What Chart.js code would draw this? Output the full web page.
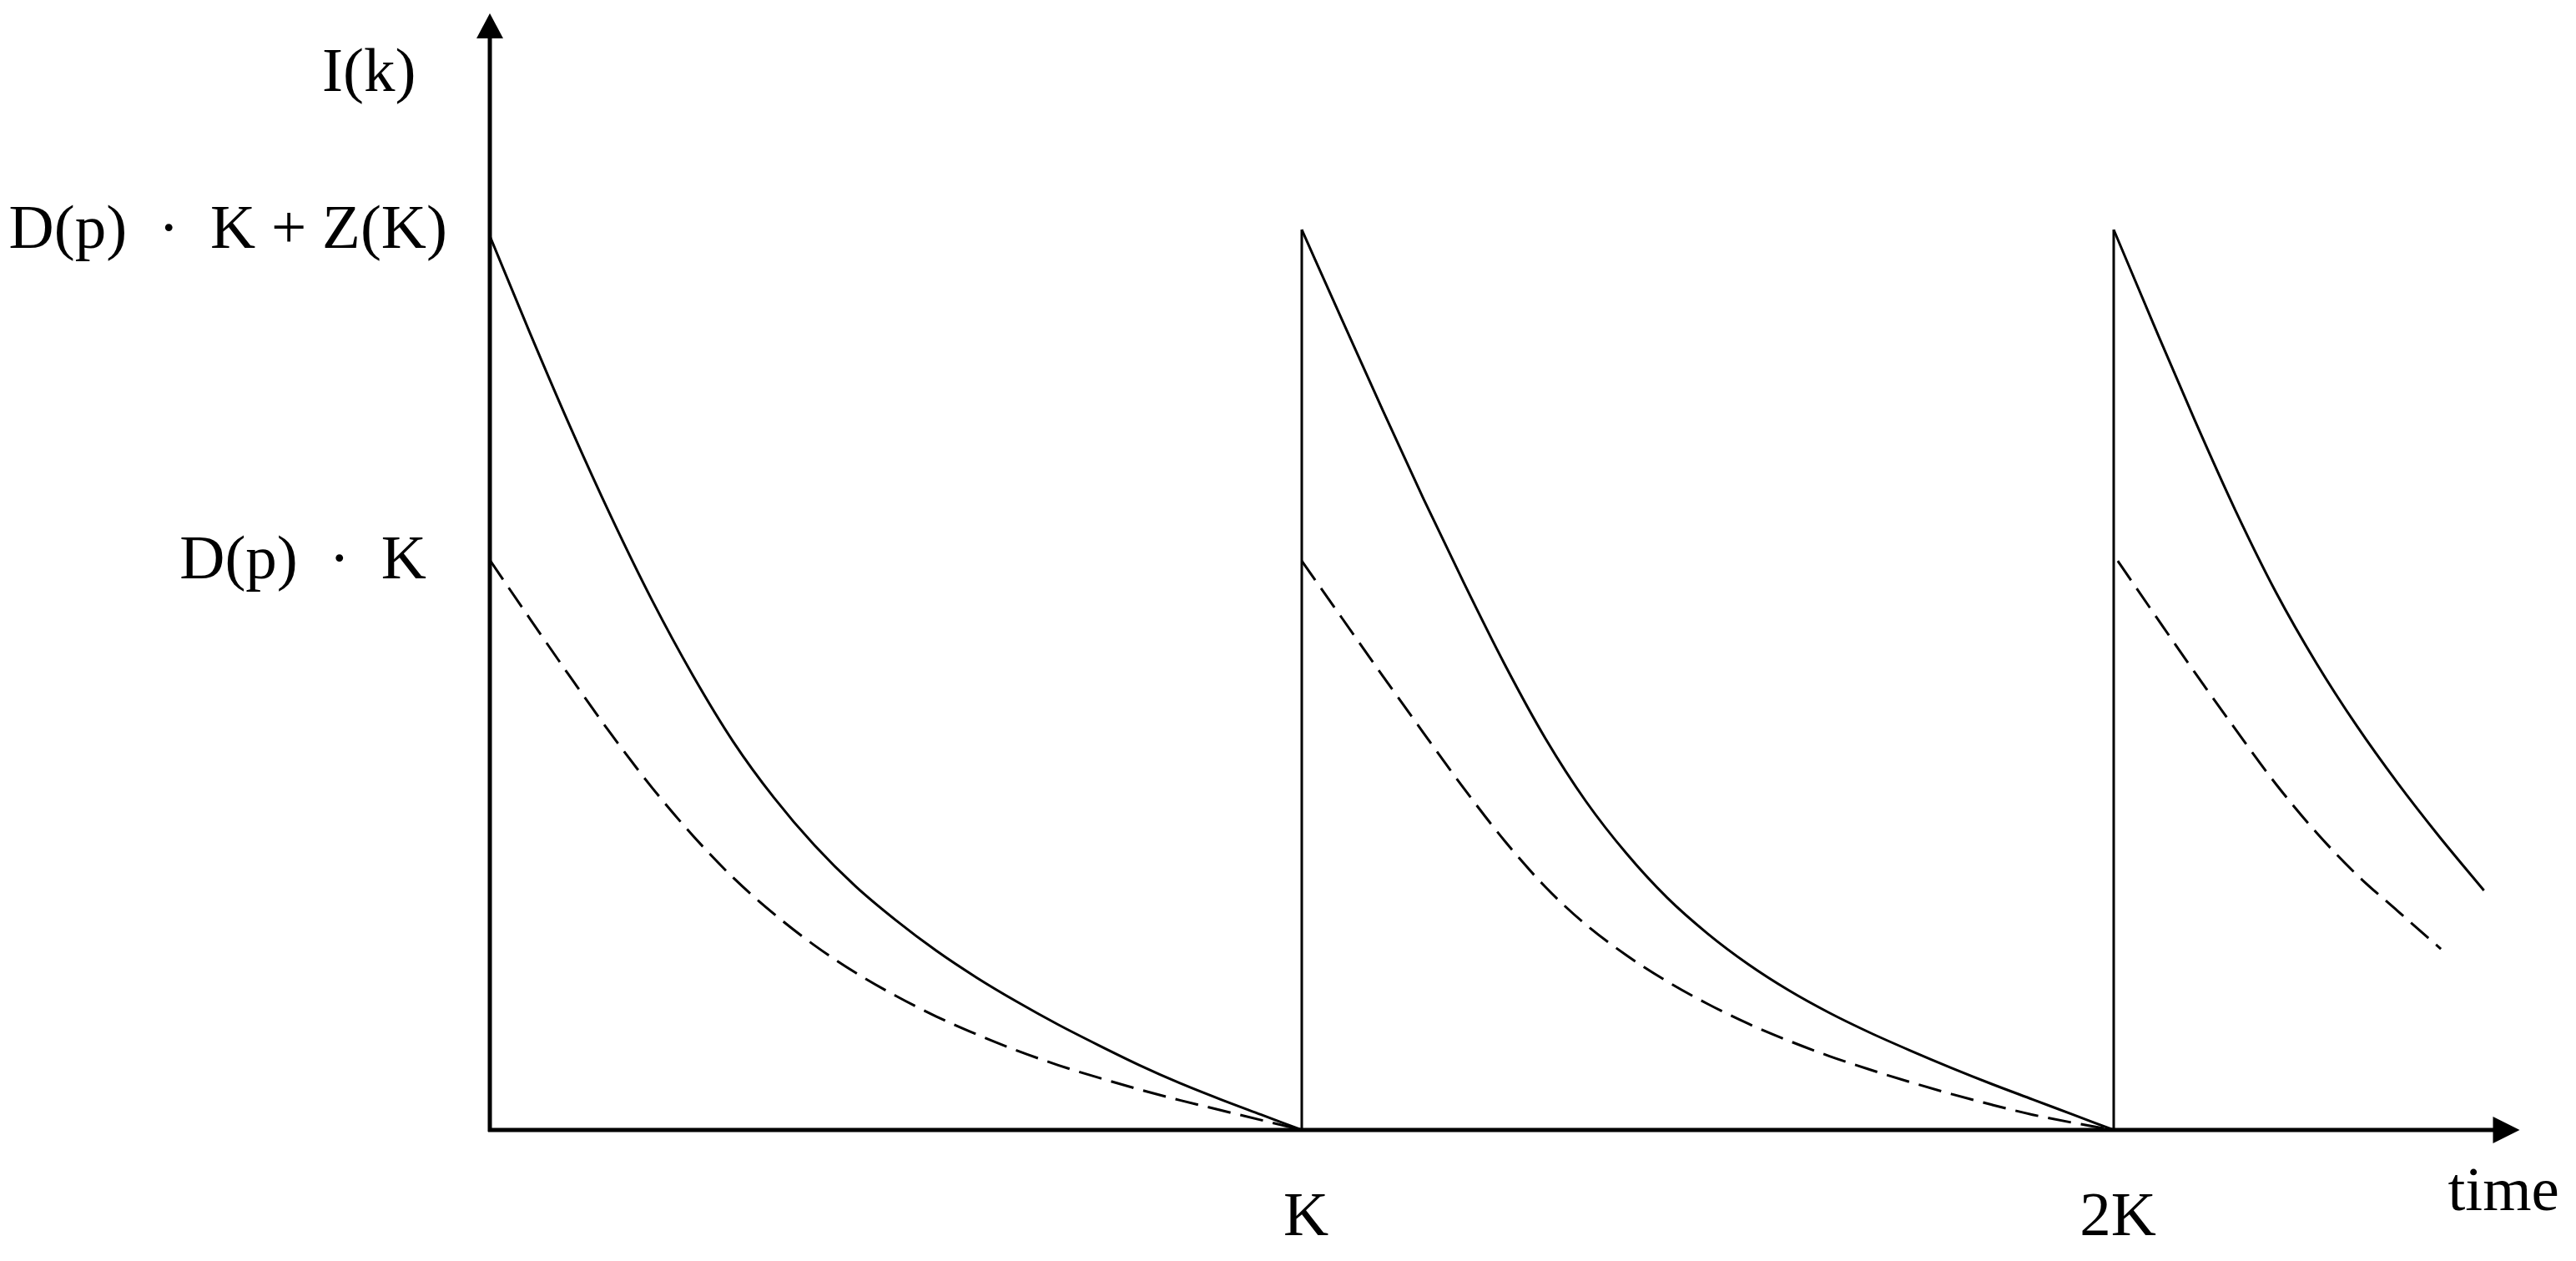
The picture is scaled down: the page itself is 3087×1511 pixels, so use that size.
<!DOCTYPE html>
<html>
<head>
<meta charset="utf-8">
<script src="https://cdn.jsdelivr.net/npm/chart.js@4.4.1/dist/chart.umd.min.js"></script>
<style>
  html, body { margin: 0; padding: 0; background: #fff; }
  canvas { display: block; }
</style>
</head>
<body>
<canvas id="inventory" width="3087" height="1511"></canvas>
<script>
// time in units of K, inventory in units of D(p)·K + Z(K)
var cycle1T     = [0, 0.05, 0.1, 0.15, 0.2, 0.25, 0.3, 0.35, 0.4, 0.45, 0.5, 0.55, 0.6, 0.65, 0.7, 0.75, 0.8, 0.85, 0.9, 0.95, 1];
var cycle1Total = [0.993, 0.884, 0.779, 0.680, 0.588, 0.505, 0.431, 0.369, 0.316, 0.271, 0.233, 0.199, 0.169, 0.142, 0.117, 0.094, 0.072, 0.052, 0.034, 0.017, 0];
var cycle1Base  = [0.633, 0.567, 0.502, 0.439, 0.380, 0.327, 0.280, 0.240, 0.205, 0.175, 0.149, 0.126, 0.106, 0.088, 0.072, 0.058, 0.045, 0.033, 0.022, 0.011, 0];

var cycle2T     = [1, 1.05, 1.1, 1.15, 1.2, 1.25, 1.3, 1.35, 1.4, 1.45, 1.5, 1.55, 1.6, 1.65, 1.7, 1.75, 1.8, 1.85, 1.9, 1.95, 2];
var cycle2Total = [1.0, 0.899, 0.799, 0.701, 0.607, 0.517, 0.435, 0.365, 0.307, 0.258, 0.218, 0.184, 0.155, 0.130, 0.108, 0.088, 0.069, 0.051, 0.034, 0.017, 0];
var cycle2Base  = [0.632, 0.568, 0.504, 0.441, 0.379, 0.321, 0.270, 0.228, 0.194, 0.165, 0.140, 0.118, 0.099, 0.082, 0.067, 0.053, 0.040, 0.028, 0.017, 0.008, 0];

var cycle3TotalT = [2, 2.05, 2.1, 2.15, 2.2, 2.25, 2.3, 2.35, 2.4, 2.456];
var cycle3Total  = [1.0, 0.893, 0.788, 0.688, 0.597, 0.518, 0.448, 0.385, 0.327, 0.266];
var cycle3BaseT  = [2.005, 2.05, 2.1, 2.15, 2.2, 2.25, 2.3, 2.35, 2.403];
var cycle3Base   = [0.632, 0.573, 0.508, 0.445, 0.384, 0.330, 0.283, 0.243, 0.201];

var dropTimes = [1, 2];
var dropLevel = 1.0;

var xTickValues = [1, 2];
var xTickLabels = ['K', '2K'];
var yTickValues = [1.0, 0.633];
var yTickLabels = ['D(p)\u2002·\u2002K + Z(K)', 'D(p)\u2002·\u2002K\u2004'];

function zip(xs, ys) {
  return xs.map(function(x, i) { return { x: x, y: ys[i] }; });
}

function curve(xs, ys, dashed) {
  return {
    data: zip(xs, ys),
    borderColor: '#000',
    borderWidth: 3,
    borderDash: dashed ? [28, 12] : [],
    pointRadius: 0,
    cubicInterpolationMode: 'monotone',
    fill: false
  };
}

var datasets = [
  curve(cycle1T, cycle1Total, false),
  curve(cycle1T, cycle1Base, true),
  curve(cycle2T, cycle2Total, false),
  curve(cycle2T, cycle2Base, true),
  curve(cycle3TotalT, cycle3Total, false),
  curve(cycle3BaseT, cycle3Base, true)
];
dropTimes.forEach(function(t) {
  datasets.push({
    data: [{ x: t, y: 0 }, { x: t, y: dropLevel }],
    borderColor: '#000',
    borderWidth: 3,
    pointRadius: 0,
    tension: 0,
    fill: false
  });
});

var FONT = '75px "Liberation Serif", "Times New Roman", serif';

var axesPlugin = {
  id: 'arrowAxes',
  afterDatasetsDraw: function(chart) {
    var ctx = chart.ctx;
    var x0 = chart.scales.x.getPixelForValue(0);
    var y0 = chart.scales.y.getPixelForValue(0);
    var top = chart.chartArea.top + 4;
    var right = chart.chartArea.right;
    ctx.save();
    ctx.strokeStyle = '#000';
    ctx.fillStyle = '#000';
    ctx.lineWidth = 5;
    ctx.beginPath();
    ctx.moveTo(x0, y0 + 2);
    ctx.lineTo(x0, top + 20);
    ctx.moveTo(x0 - 2, y0);
    ctx.lineTo(right - 20, y0);
    ctx.stroke();
    // arrow heads
    ctx.beginPath();
    ctx.moveTo(x0, top);
    ctx.lineTo(x0 - 16, top + 30);
    ctx.lineTo(x0 + 16, top + 30);
    ctx.closePath();
    ctx.fill();
    ctx.beginPath();
    ctx.moveTo(right, y0);
    ctx.lineTo(right - 32, y0 - 16);
    ctx.lineTo(right - 32, y0 + 16);
    ctx.closePath();
    ctx.fill();
    // axis names
    ctx.font = FONT;
    ctx.textAlign = 'left';
    ctx.textBaseline = 'alphabetic';
    ctx.fillText('I(k)', x0 - 201, 109);
    ctx.fillText('time', right - 86, y0 + 96);
    ctx.restore();
  }
};

new Chart(document.getElementById('inventory'), {
  type: 'line',
  data: { datasets: datasets },
  options: {
    responsive: false,
    animation: false,
    devicePixelRatio: 1,
    layout: { padding: { left: 0, right: 67.5, top: 12, bottom: 0 } },
    plugins: { legend: { display: false }, tooltip: { enabled: false } },
    scales: {
      x: {
        type: 'linear',
        min: 0,
        max: 2.5,
        grid: { display: false, drawTicks: false },
        border: { display: false },
        afterFit: function(scale) {
          scale.height = 157;
          scale.paddingLeft = 0;
          scale.paddingRight = 0;
        },
        afterBuildTicks: function(scale) {
          scale.ticks = xTickValues.map(function(v) { return { value: v }; });
        },
        ticks: {
          autoSkip: false,
          maxRotation: 0,
          padding: 61,
          labelOffset: 5,
          color: '#000',
          font: { family: '"Liberation Serif", "Times New Roman", serif', size: 75 },
          callback: function(value) { return xTickLabels[xTickValues.indexOf(value)]; }
        }
      },
      y: {
        type: 'linear',
        min: 0,
        max: 1.244,
        grid: { display: false, drawTicks: false },
        border: { display: false },
        afterFit: function(scale) {
          scale.width = 587;
          scale.paddingTop = 0;
          scale.paddingBottom = 0;
        },
        afterBuildTicks: function(scale) {
          scale.ticks = yTickValues.map(function(v) { return { value: v }; });
        },
        ticks: {
          autoSkip: false,
          padding: 51,
          labelOffset: 2,
          color: '#000',
          font: { family: '"Liberation Serif", "Times New Roman", serif', size: 75 },
          callback: function(value) { return yTickLabels[yTickValues.indexOf(value)]; }
        }
      }
    }
  },
  plugins: [axesPlugin]
});
</script>
</body>
</html>
